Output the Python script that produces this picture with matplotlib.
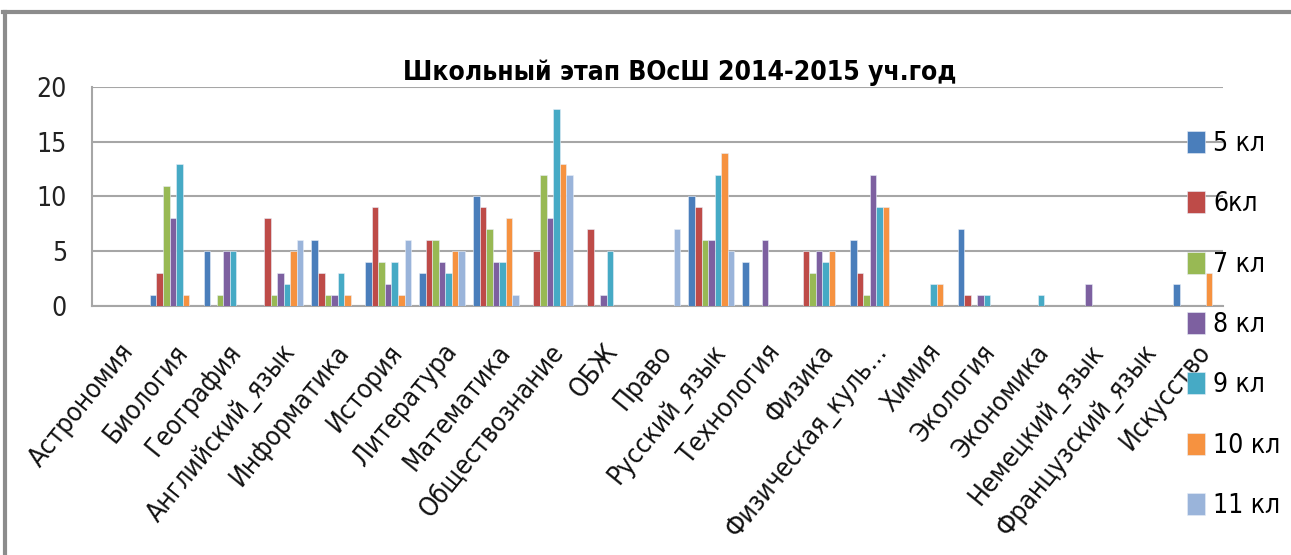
import matplotlib
matplotlib.use("Agg")
import matplotlib.pyplot as plt
from matplotlib.lines import Line2D
import numpy as np

# Subjects (x axis)
subjects = ["Астрономия", "Биология", "География", "Английский_язык", "Информатика",
            "История", "Литература", "Математика", "Обществознание", "ОБЖ", "Право",
            "Русский_язык", "Технология", "Физика", "Физическая_куль...", "Химия",
            "Экология", "Экономика", "Немецкий_язык", "Французский_язык", "Искусство"]

# Values per grade, one entry per subject
kl5 = [0, 1, 5, 0, 6, 4, 3, 10, 0, 0, 0, 10, 4, 0, 6, 0, 7, 0, 0, 0, 2]
kl6 = [0, 3, 0, 8, 3, 9, 6, 9, 5, 7, 0, 9, 0, 5, 3, 0, 1, 0, 0, 0, 0]
kl7 = [0, 11, 1, 1, 1, 4, 6, 7, 12, 0, 0, 6, 0, 3, 1, 0, 0, 0, 0, 0, 0]
kl8 = [0, 8, 5, 3, 1, 2, 4, 4, 8, 1, 0, 6, 6, 5, 12, 0, 1, 0, 2, 0, 0]
kl9 = [0, 13, 5, 2, 3, 4, 3, 4, 18, 5, 0, 12, 0, 4, 9, 2, 1, 1, 0, 0, 0]
kl10 = [0, 1, 0, 5, 1, 1, 5, 8, 13, 0, 0, 14, 0, 5, 9, 2, 0, 0, 0, 0, 3]
kl11 = [0, 0, 0, 6, 0, 6, 5, 1, 12, 0, 7, 5, 0, 0, 0, 0, 0, 0, 0, 0, 0]

series = [kl5, kl6, kl7, kl8, kl9, kl10, kl11]
names = ["5 кл", "6кл", "7 кл", "8 кл", "9 кл", "10 кл", "11 кл"]
colors = ["#4A7EBB", "#BE4B48", "#98B954", "#7D60A0", "#46AAC5", "#F69240", "#9AB4DA"]

plt.rcParams["font.family"] = ["DejaVu Sans"]
plt.rcParams["font.stretch"] = "condensed"

fig = plt.figure(figsize=(12.91, 5.55), dpi=100)
ax = fig.add_axes([92 / 1291, 1 - 306 / 555, (1223 - 92) / 1291, (306 - 87) / 555])

x = np.arange(len(subjects))
w = 0.122
for i, (vals, name, c) in enumerate(zip(series, names, colors)):
    ax.bar(x + (i - 3) * w, vals, width=w, color=c, label=name,
           edgecolor="#e8eef8", linewidth=0.4, zorder=3)

ax.set_xlim(-0.5, len(subjects) - 0.5)
ax.set_ylim(0, 20)
ax.set_yticks([0, 5, 10, 15, 20])
ax.grid(axis="y", color="#a6a6a6", linewidth=1.5, zorder=0)
ax.set_axisbelow(True)

for s in ["top", "right"]:
    ax.spines[s].set_visible(False)
for s in ["left", "bottom"]:
    ax.spines[s].set_color("#a6a6a6")
    ax.spines[s].set_linewidth(1.5)

ax.tick_params(axis="y", length=0, pad=18, labelsize=19, colors="#222222")
ax.tick_params(axis="x", length=0, pad=24, labelsize=19, colors="#111111")
ax.set_xticks(x)
ax.set_xticklabels(subjects, rotation=51, ha="right", va="top", rotation_mode="anchor")

ax.set_title("Школьный этап ВОсШ 2014-2015 уч.год", fontsize=19, fontweight="bold",
             pad=5, x=(680 - 92) / (1223 - 92))

leg = ax.legend(loc="upper left", bbox_to_anchor=(1187 / 1291, 1 - 131 / 555),
                bbox_transform=fig.transFigure, frameon=False, fontsize=19,
                handlelength=0.7, handleheight=0.9, handletextpad=0.3,
                labelspacing=1.3, borderpad=0, borderaxespad=0)

# outer chart frame
fig.add_artist(Line2D([3 / 1291, 1], [1 - 12 / 555, 1 - 12 / 555],
                      transform=fig.transFigure, color="#8c8c8c", linewidth=3))
fig.add_artist(Line2D([5 / 1291, 5 / 1291], [0, 1 - 12 / 555],
                      transform=fig.transFigure, color="#8c8c8c", linewidth=3))

fig.savefig("out.png", dpi=100)
